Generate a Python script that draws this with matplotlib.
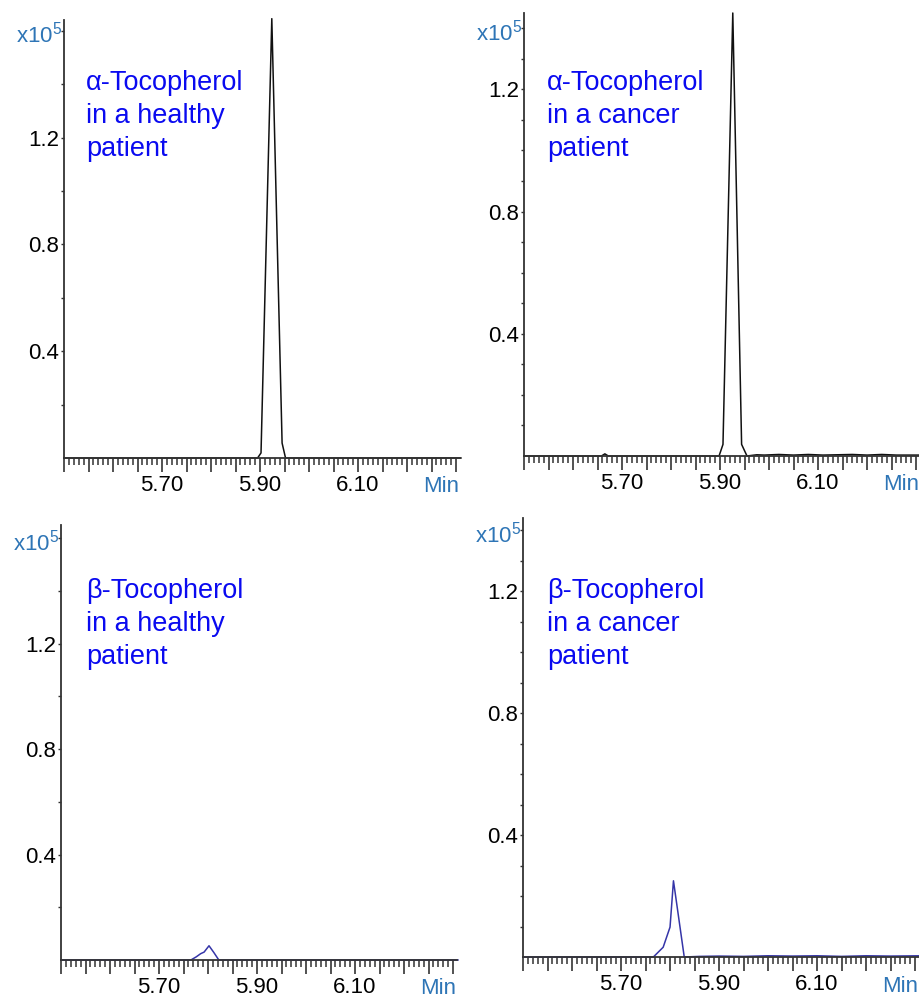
import numpy as np
import matplotlib
matplotlib.use("Agg")
import matplotlib.pyplot as plt

plt.rcParams["font.family"] = ["Liberation Sans", "DejaVu Sans"]
plt.rcParams["mathtext.fontset"] = "custom"
plt.rcParams["mathtext.rm"] = "Liberation Sans"
plt.rcParams["mathtext.default"] = "regular"

# retention time (min) and intensity (x10^5)
alpha_healthy_t = [5.50, 5.895, 5.902, 5.924, 5.945, 5.952, 6.31]
alpha_healthy_y = [0.0, 0.0, 0.019, 1.645, 0.056, 0.0, 0.0]

alpha_cancer_t = [5.50, 5.658, 5.665, 5.672, 5.898, 5.906, 5.926, 5.944, 5.955,
                  5.975, 5.99, 6.02, 6.05, 6.08, 6.11, 6.14, 6.17, 6.20, 6.23, 6.26, 6.31]
alpha_cancer_y = [0.0, 0.0, 0.007, 0.0, 0.0, 0.038, 1.45, 0.038, 0.0,
                  0.004, 0.003, 0.005, 0.003, 0.005, 0.003, 0.004, 0.005, 0.003, 0.005, 0.003, 0.003]

beta_healthy_t = [5.50, 5.765, 5.776, 5.785, 5.792, 5.802, 5.812, 5.822, 6.31]
beta_healthy_y = [0.0, 0.0, 0.012, 0.024, 0.03, 0.054, 0.028, 0.0, 0.0]

beta_cancer_t = [5.50, 5.766, 5.786, 5.800, 5.807, 5.829, 5.86, 5.90, 5.95, 6.00,
                 6.05, 6.10, 6.15, 6.20, 6.25, 6.31]
beta_cancer_y = [0.0, 0.0, 0.032, 0.098, 0.25, 0.0, 0.002, 0.003, 0.002, 0.004,
                 0.003, 0.004, 0.002, 0.004, 0.003, 0.004]

panel_labels = [["α-Tocopherol", "in a healthy", "patient"],
                ["α-Tocopherol", "in a cancer", "patient"],
                ["β-Tocopherol", "in a healthy", "patient"],
                ["β-Tocopherol", "in a cancer", "patient"]]

xtick_labels = {5.70: "5.70", 5.90: "5.90", 6.10: "6.10"}
ytick_labels = {0.4: "0.4", 0.8: "0.8", 1.2: "1.2"}

W, H = 920, 1002
fig = plt.figure(figsize=(W / 100, H / 100), dpi=100)

AXBLUE = "#2E75B6"
TXTBLUE = "#0a0af0"


def panel(box, t, y, color, ylim, ystep, lines, text_xy):
    left, top, right, bottom = box
    ax = fig.add_axes([left / W, 1 - bottom / H, (right - left) / W, (bottom - top) / H])
    ax.plot(t, y, color=color, lw=1.1, clip_on=False)
    ax.set_xlim(5.50, 6.308)
    ax.set_ylim(*ylim)
    for s in ["top", "right"]:
        ax.spines[s].set_visible(False)
    for s in ["left", "bottom"]:
        ax.spines[s].set_color("#333333")
        ax.spines[s].set_linewidth(1.3)

    major = np.round(np.arange(5.50, 6.301, 0.05), 2)
    ax.set_xticks(major)
    ax.set_xticklabels([xtick_labels.get(v, "") for v in major])
    ax.set_xticks(np.round(np.arange(5.50, 6.305, 0.01), 2), minor=True)
    ax.tick_params(axis="x", which="major", direction="out", length=10, width=1.2,
                   color="#333333", pad=2.5, labelsize=16)
    ax.tick_params(axis="x", which="minor", direction="out", length=5, width=1.1,
                   color="#333333")

    yt = np.round(np.arange(ystep, ylim[1] - 0.02, ystep), 2)
    ax.set_yticks(yt)
    ax.set_yticklabels([ytick_labels.get(v, "") for v in yt])
    ax.tick_params(axis="y", direction="out", length=2.5, width=1.0, color="#333333",
                   pad=1, labelsize=16)

    ax.annotate("x10$^5$", xy=(0, yt[-1]), xycoords=("axes fraction", "data"),
                xytext=(-2, -4), textcoords="offset pixels", ha="right", va="center",
                color=AXBLUE, fontsize=16)
    ax.annotate("Min", xy=(1, 0), xycoords="axes fraction", xytext=(-1, -29),
                textcoords="offset pixels", ha="right", va="center",
                color=AXBLUE, fontsize=16)

    tx, ty = text_xy
    for i, s in enumerate(lines):
        fig.text(tx / W, 1 - (ty + 33 * i) / H, s, color=TXTBLUE, fontsize=19.5,
                 va="baseline", ha="left")
    return ax


panel((64, 20, 460, 458), alpha_healthy_t, alpha_healthy_y, "#111111",
      (0.0, 1.64), 0.2, panel_labels[0], (86, 90))
panel((524, 13, 920, 456), alpha_cancer_t, alpha_cancer_y, "#111111",
      (0.0, 1.45), 0.1, panel_labels[1], (547, 90))
panel((61, 525, 457, 960), beta_healthy_t, beta_healthy_y, "#3535a8",
      (0.0, 1.65), 0.2, panel_labels[2], (86, 598))
panel((523, 518, 919, 957), beta_cancer_t, beta_cancer_y, "#3535a8",
      (0.0, 1.44), 0.1, panel_labels[3], (547, 598))

fig.savefig("out.png", dpi=100)
